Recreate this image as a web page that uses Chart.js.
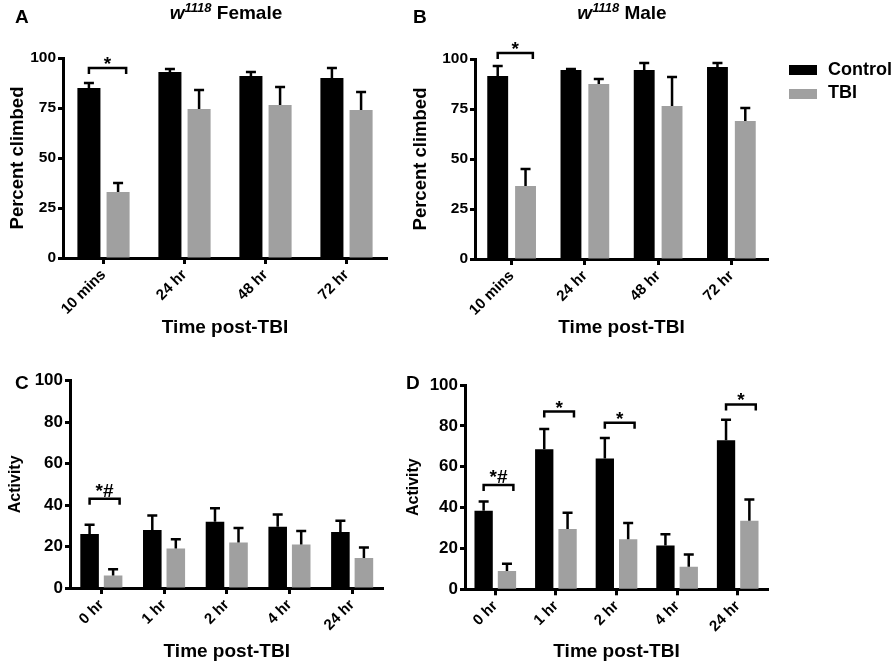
<!DOCTYPE html>
<html lang="en">
<head>
<meta charset="UTF-8">
<title>w1118 climbing and activity after TBI</title>
<script src="https://cdn.jsdelivr.net/npm/chart.js"></script>
<style>
    body { margin: 0; background: #fff; font-family: 'Liberation Sans', Arial, sans-serif; color: #000; }
    #fig { position: relative; width: 893px; height: 666px; overflow: hidden; }
    canvas { position: absolute; }
    .letter { position: absolute; font-weight: bold; font-size: 19px; line-height: 1; }
    .title { position: absolute; font-weight: bold; font-size: 19px; line-height: 1; white-space: nowrap; transform: translateX(-50%); }
    .title sup { font-size: 13px; font-style: italic; }
    .key { position: absolute; width: 28px; height: 10px; }
    .key-text { position: absolute; font-weight: bold; font-size: 18px; line-height: 1; }
</style>
</head>
<body>
<div id="fig">
    <canvas id="chartA" width="400" height="345" style="left:0;top:0"></canvas>
    <canvas id="chartB" width="493" height="345" style="left:400px;top:0"></canvas>
    <canvas id="chartC" width="400" height="321" style="left:0;top:345px"></canvas>
    <canvas id="chartD" width="493" height="321" style="left:400px;top:345px"></canvas>

    <div class="letter" style="left:15px;top:7px">A</div>
    <div class="letter" style="left:413px;top:7px">B</div>
    <div class="letter" style="left:15px;top:373px">C</div>
    <div class="letter" style="left:406px;top:373px">D</div>
    <div class="title" style="left:226px;top:1px"><i>w<sup>1118</sup></i> Female</div>
    <div class="title" style="left:622px;top:1px"><i>w<sup>1118</sup></i> Male</div>

    <div class="key" style="left:789px;top:65px;background:#000"></div>
    <div class="key-text" style="left:828px;top:60px">Control</div>
    <div class="key" style="left:789px;top:89px;background:#a0a0a0"></div>
    <div class="key-text" style="left:828px;top:83px">TBI</div>
</div>

<script>
    const climbLabels = ['10 mins', '24 hr', '48 hr', '72 hr'];
    const activityLabels = ['0 hr', '1 hr', '2 hr', '4 hr', '24 hr'];
    const seriesNames = ['Control', 'TBI'];

    // A - female climbing (mean, SEM)
    const femaleControl = [85, 93, 91, 90];
    const femaleControlErr = [2.5, 1.5, 2, 5];
    const femaleTBI = [33, 74.5, 76.5, 74];
    const femaleTBIErr = [4.5, 9.5, 9, 9];

    // B - male climbing
    const maleControl = [91.5, 94.5, 94.5, 96];
    const maleControlErr = [5, 0.5, 3.5, 2];
    const maleTBI = [36.5, 87.5, 76.5, 69];
    const maleTBIErr = [8.5, 2.5, 14.5, 6.5];

    // C - female activity
    const femaleActControl = [26, 28, 32, 29.5, 27];
    const femaleActControlErr = [4.5, 7, 6.5, 6, 5.5];
    const femaleActTBI = [6, 19, 22, 21, 14.5];
    const femaleActTBIErr = [3, 4.5, 7, 6.5, 5];

    // D - male activity
    const maleActControl = [38.5, 68.5, 64, 21.5, 73];
    const maleActControlErr = [4.5, 10, 10, 5.5, 10];
    const maleActTBI = [9, 29.5, 24.5, 11, 33.5];
    const maleActTBIErr = [3.5, 8, 8, 6, 10.5];

    // significance brackets: category index, bracket height (data units), mark
    const sigIdxA = [0], sigLevelA = [95], sigTextA = ['*'];
    const sigIdxB = [0], sigLevelB = [103], sigTextB = ['*'];
    const sigIdxC = [0], sigLevelC = [43], sigTextC = ['*#'];
    const sigIdxD = [0, 1, 2, 4], sigLevelD = [51, 87, 81.5, 90.5], sigTextD = ['*#', '*', '*', '*'];

    const family = "'Liberation Sans', Arial, sans-serif";

    // error bars (up only) + brackets
    const whiskers = {
        id: 'whiskers',
        afterDatasetsDraw(chart, args, opts) {
            const ctx = chart.ctx;
            const y = chart.scales.y;
            ctx.save();
            ctx.strokeStyle = '#000';
            ctx.lineWidth = 2.5;
            chart.data.datasets.forEach((ds, i) => {
                chart.getDatasetMeta(i).data.forEach((bar, j) => {
                    const top = y.getPixelForValue(ds.data[j] + ds.err[j]);
                    ctx.beginPath();
                    ctx.moveTo(bar.x, bar.y);
                    ctx.lineTo(bar.x, top);
                    ctx.moveTo(bar.x - 5, top);
                    ctx.lineTo(bar.x + 5, top);
                    ctx.stroke();
                });
            });
            const c = chart.getDatasetMeta(0).data;
            const t = chart.getDatasetMeta(1).data;
            ctx.fillStyle = '#000';
            ctx.font = 'bold 19px ' + family;
            ctx.textAlign = 'center';
            ctx.textBaseline = 'alphabetic';
            opts.idx.forEach((k, n) => {
                const yy = y.getPixelForValue(opts.level[n]);
                const x1 = c[k].x;
                const x2 = t[k].x + t[k].width * 0.35;
                ctx.beginPath();
                ctx.moveTo(x1, yy + 6);
                ctx.lineTo(x1, yy);
                ctx.lineTo(x2, yy);
                ctx.lineTo(x2, yy + 6);
                ctx.stroke();
                // a lone asterisk sits high in the font, so drop it a little
                const dy = opts.text[n] === '*' ? 2 : -2;
                ctx.fillText(opts.text[n], (x1 + x2) / 2, yy + dy);
            });
            ctx.restore();
        }
    };

    function build(id, cfg) {
        const tickFont = { family: family, size: cfg.tickSize, weight: 'bold' };
        return new Chart(document.getElementById(id), {
            type: 'bar',
            data: {
                labels: cfg.labels,
                datasets: [
                    { label: seriesNames[0], data: cfg.ctrl, err: cfg.ctrlErr, backgroundColor: '#000' },
                    { label: seriesNames[1], data: cfg.tbi, err: cfg.tbiErr, backgroundColor: '#a0a0a0' }
                ]
            },
            options: {
                responsive: false,
                animation: false,
                layout: { padding: cfg.pad },
                datasets: { bar: { categoryPercentage: cfg.cat, barPercentage: cfg.bar } },
                plugins: {
                    legend: { display: false },
                    tooltip: { enabled: false },
                    whiskers: { idx: cfg.sigIdx, level: cfg.sigLevel, text: cfg.sigText }
                },
                scales: {
                    x: {
                        afterFit: s => { s.height = cfg.xHeight; },
                        grid: { display: true, offset: false, drawOnChartArea: false, tickLength: 6, tickWidth: 3, tickColor: '#000' },
                        border: { display: true, color: '#000', width: 3 },
                        ticks: { color: '#000', font: { family: family, size: 15, weight: 'bold' }, minRotation: 45, maxRotation: 45, padding: 2 },
                        title: { display: true, text: 'Time post-TBI', color: '#000', font: { family: family, size: 19, weight: 'bold' }, padding: 0 }
                    },
                    y: {
                        min: 0,
                        max: 100,
                        afterFit: s => { s.width = cfg.yWidth; },
                        grid: { display: true, drawOnChartArea: false, tickLength: 5, tickWidth: 3, tickColor: '#000' },
                        border: { display: true, color: '#000', width: 3 },
                        ticks: { stepSize: cfg.step, color: '#000', font: tickFont, padding: 2 },
                        title: { display: true, text: cfg.yTitle, color: '#000', font: { family: family, size: cfg.yTitleSize, weight: 'bold' }, padding: 0 }
                    }
                }
            },
            plugins: [whiskers]
        });
    }

    build('chartA', {
        labels: climbLabels, ctrl: femaleControl, ctrlErr: femaleControlErr, tbi: femaleTBI, tbiErr: femaleTBIErr,
        sigIdx: sigIdxA, sigLevel: sigLevelA, sigText: sigTextA,
        step: 25, yTitle: 'Percent climbed', yTitleSize: 18.5, tickSize: 15.5,
        pad: { left: 7, top: 58, right: 13, bottom: 5.6 }, yWidth: 56, xHeight: 81.4,
        cat: 0.72, bar: 0.79
    });
    build('chartB', {
        labels: climbLabels, ctrl: maleControl, ctrlErr: maleControlErr, tbi: maleTBI, tbiErr: maleTBIErr,
        sigIdx: sigIdxB, sigLevel: sigLevelB, sigText: sigTextB,
        step: 25, yTitle: 'Percent climbed', yTitleSize: 18.5, tickSize: 15.5,
        pad: { left: 10, top: 59, right: 125, bottom: 5.6 }, yWidth: 65, xHeight: 80.4,
        cat: 0.76, bar: 0.75
    });
    build('chartC', {
        labels: activityLabels, ctrl: femaleActControl, ctrlErr: femaleActControlErr, tbi: femaleActTBI, tbiErr: femaleActTBIErr,
        sigIdx: sigIdxC, sigLevel: sigLevelC, sigText: sigTextC,
        step: 20, yTitle: 'Activity', yTitleSize: 16, tickSize: 17,
        pad: { left: 6.4, top: 35.7, right: 16.5, bottom: 2.6 }, yWidth: 63.6, xHeight: 75.4,
        cat: 0.75, bar: 0.79
    });
    build('chartD', {
        labels: activityLabels, ctrl: maleActControl, ctrlErr: maleActControlErr, tbi: maleActTBI, tbiErr: maleActTBIErr,
        sigIdx: sigIdxD, sigLevel: sigLevelD, sigText: sigTextD,
        step: 20, yTitle: 'Activity', yTitleSize: 16, tickSize: 17,
        pad: { left: 4.4, top: 40, right: 125, bottom: 3 }, yWidth: 60.6, xHeight: 73.7,
        cat: 0.77, bar: 0.785
    });
</script>
</body>
</html>
